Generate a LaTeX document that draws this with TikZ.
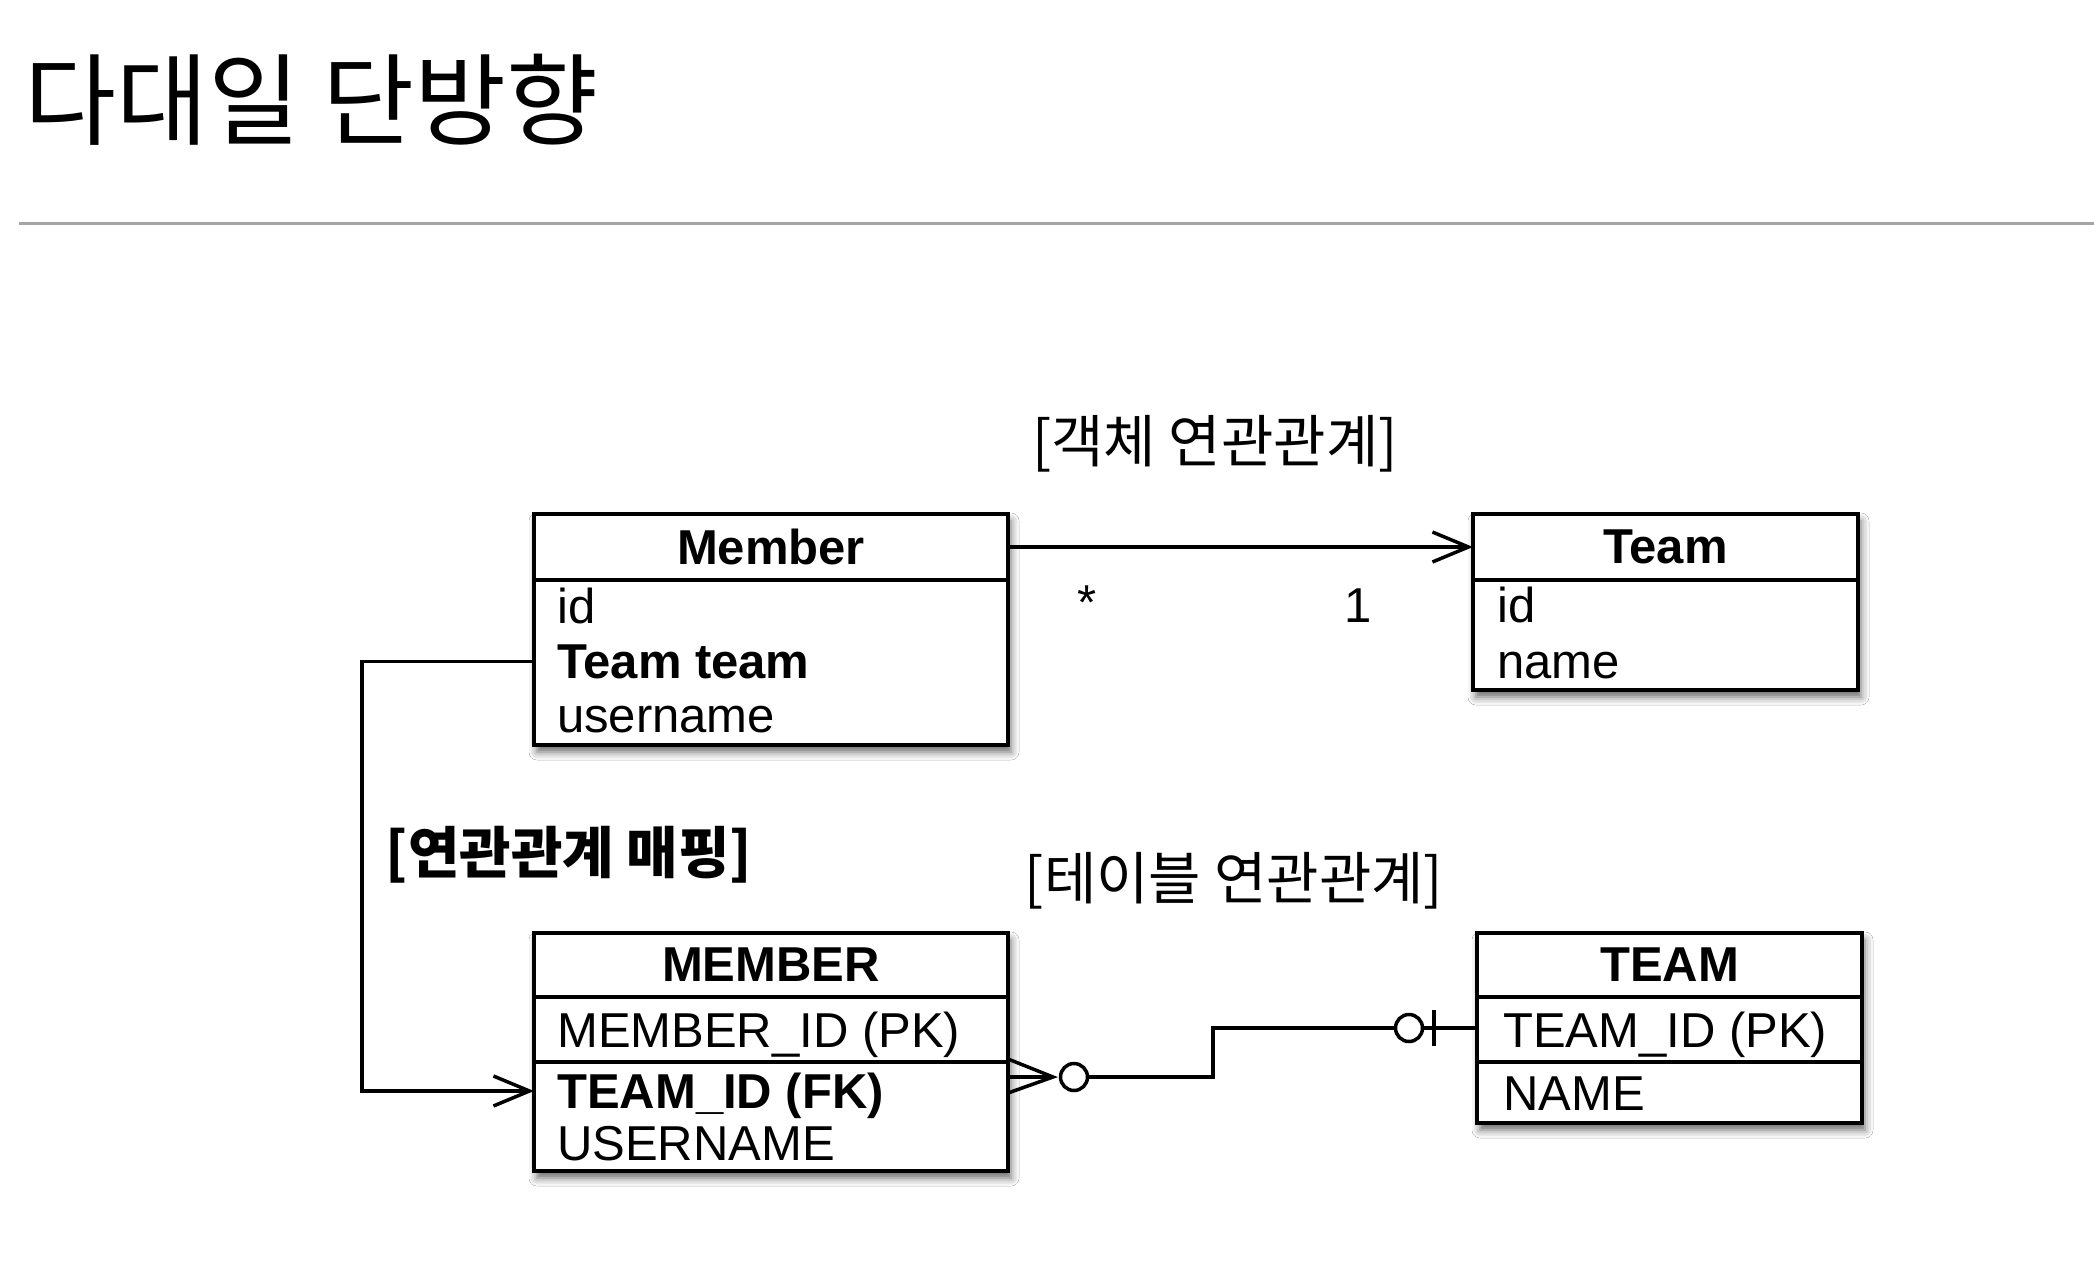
\documentclass[tikz,border=0pt]{standalone}
\usepackage{fontspec}
\setmainfont{Liberation Sans}
\newfontfamily\kr{Noto Sans CJK KR}
\usetikzlibrary{arrows.meta,shadows.blur}
\definecolor{rulegray}{RGB}{165,165,165}
\begin{document}
\begin{tikzpicture}[x=1pt,y=-1pt,
  box/.style={draw=black, line width=4pt, fill=white, anchor=north west, inner sep=0pt, outer sep=0pt,
    blur shadow={shadow xshift=3pt, shadow yshift=-7pt, shadow blur radius=8pt, shadow opacity=60}},
  hdr/.style={anchor=north west, inner sep=0pt, outer sep=0pt, font=\bfseries\fontsize{49}{58}\selectfont},
  attr/.style={anchor=base west, inner sep=0pt, font=\fontsize{49}{58}\selectfont},
  battr/.style={anchor=base west, inner sep=0pt, font=\bfseries\fontsize{49}{58}\selectfont},
  rowline/.style={line width=4pt},
  conn/.style={line width=3.5pt, line join=miter},
  openarrow/.style={-{Straight Barb[length=36pt,width=30pt]}},
  ring/.style={circle, draw=black, line width=3.5pt, fill=white, minimum size=27pt, inner sep=0pt},
  klabel/.style={inner sep=0pt, font=\kr\fontsize{57}{64}\selectfont},
]
\fill[white] (0,0) rectangle (2094,1278);
\useasboundingbox (0,0) rectangle (2094,1278);

% title and rule
\node[anchor=base west, inner sep=0pt, font=\kr\fontsize{100}{110}\selectfont] (title) at (24,137) {다대일 단방향};
\draw[line width=3pt, rulegray] (19,223) -- (2094,223);

% Member (object)
\node[box, minimum width=474pt, minimum height=231pt] (member) at (534,514) {};
\node[hdr, minimum width=474pt, minimum height=66pt] (memberh) at (534,514) {Member};
\draw[rowline] (534,580) -- (1008,580);
\node[attr] (mid) at (557,623) {id};
\node[battr] (mteam) at (557,678) {Team team};
\node[attr] (muser) at (557,732) {username};

% Team (object)
\node[box, minimum width=385pt, minimum height=176pt] (team) at (1473,514) {};
\node[hdr, minimum width=385pt, minimum height=66pt] (teamh) at (1473,514) {Team};
\draw[rowline] (1473,580) -- (1858,580);
\node[attr] (tid) at (1497,622) {id};
\node[attr] (tname) at (1497,678) {name};

% MEMBER (table)
\node[box, minimum width=474pt, minimum height=238pt] (dbmember) at (534,933) {};
\node[hdr, minimum width=474pt, minimum height=64pt] (dbmemberh) at (534,933) {MEMBER};
\draw[rowline] (534,997) -- (1008,997);
\draw[rowline] (534,1062) -- (1008,1062);
\node[attr] (dbmid) at (557,1047) {MEMBER\_ID (PK)};
\node[battr] (dbfk) at (557,1108) {TEAM\_ID (FK)};
\node[attr] (dbuser) at (557,1160) {USERNAME};

% TEAM (table)
\node[box, minimum width=385pt, minimum height=190pt] (dbteam) at (1477,933) {};
\node[hdr, minimum width=385pt, minimum height=64pt] (dbteamh) at (1477,933) {TEAM};
\draw[rowline] (1477,997) -- (1862,997);
\draw[rowline] (1477,1062) -- (1862,1062);
\node[attr] (dbtid) at (1503,1047) {TEAM\_ID (PK)};
\node[attr] (dbtname) at (1503,1110) {NAME};

% labels
\node[klabel] (objlabel) at (1215,444) {[객체 연관관계]};
\node[klabel, font=\kr\bfseries\fontsize{56}{64}\selectfont] (maplabel) at (569,855) {[연관관계 매핑]};
\node[klabel] (tbllabel) at (1234,881) {[테이블 연관관계]};
\node[inner sep=0pt, font=\fontsize{49}{58}\selectfont] (many) at (1087,603) {*};
\node[inner sep=0pt, font=\fontsize{49}{58}\selectfont] (one) at (1358,606) {1};

% object association
\draw[conn, openarrow] (memberh.east) -- (teamh.west);

% mapping connector
\coordinate (fkrow) at (0,1091);
\draw[conn, openarrow] (member.west |- mteam) -- ++(-172,0) |- (dbmember.west |- fkrow);

% ER relationship
\coordinate (cfy) at (0,1077);
\coordinate (cfa) at (0,1059);
\coordinate (cfb) at (0,1093);
\coordinate (cftip) at (1053,1077);
\coordinate (bend) at (1213,1077);
\node[ring] (c1) at (1074,1077) {};
\node[ring] (c2) at (1409,1028) {};
\draw[conn] (dbmember.east |- cfa) -- (cftip) -- (dbmember.east |- cfb);
\draw[conn] (dbmember.east |- cfy) -- (cftip);
\draw[conn] (c1.east) -- (bend) |- (c2.west);
\draw[conn] (c2.east) -- (dbteam.west |- c2);
\coordinate (bartop) at (1434,1010);
\coordinate (barbot) at (1434,1046);
\draw[conn] (bartop) -- (barbot);
\end{tikzpicture}
\end{document}
